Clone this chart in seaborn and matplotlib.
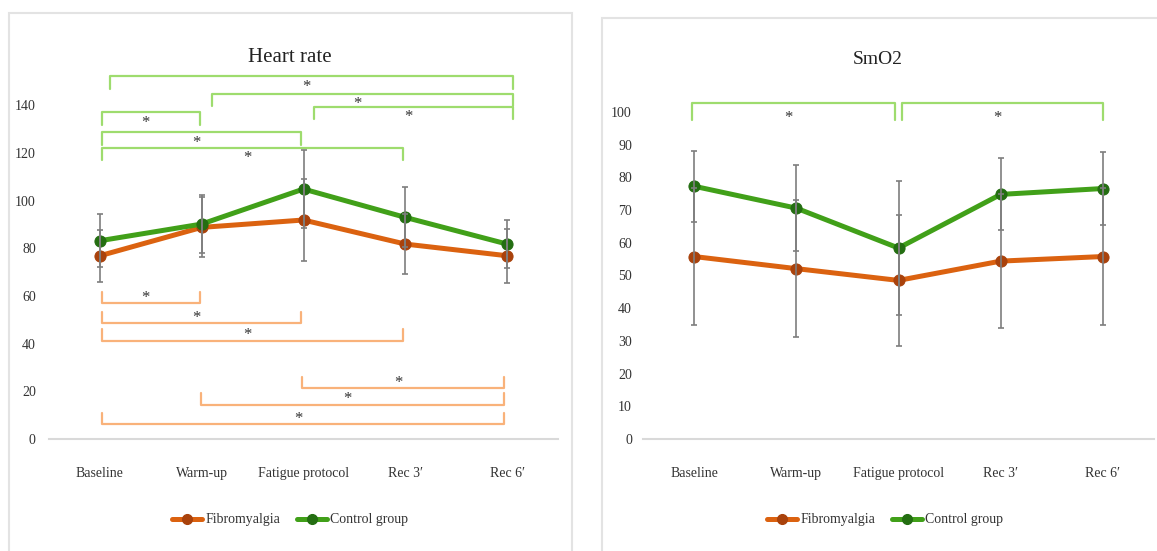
import numpy as np
import pandas as pd
import matplotlib
matplotlib.use("Agg")
import matplotlib.pyplot as plt
import seaborn as sns
from matplotlib.lines import Line2D
from matplotlib.patches import Rectangle

# --- datos ---
phases = ["Baseline", "Warm-up", "Fatigue protocol", "Rec 3\u2032", "Rec 6\u2032"]
groups = ["Fibromyalgia", "Control group"]

hr_fibro = [76.9, 88.8, 91.9, 81.8, 76.9]
hr_fibro_sd = [11.0, 12.6, 17.0, 12.6, 11.4]
hr_control = [83.2, 90.2, 104.9, 93.0, 81.8]
hr_control_sd = [11.2, 12.0, 16.3, 12.6, 10.2]

smo2_fibro = [55.8, 52.1, 48.5, 54.4, 55.8]
smo2_fibro_sd = [21.0, 21.0, 20.0, 20.5, 21.0]
smo2_control = [77.3, 70.6, 58.4, 74.8, 76.6]
smo2_control_sd = [10.8, 13.1, 20.4, 11.0, 11.2]

# significant comparisons: (from phase index, to phase index, bracket height)
hr_control_sig = [(0, 4, 152.2), (1, 4, 144.8), (2, 4, 139.3),
                  (0, 1, 137.1), (0, 2, 128.7), (0, 3, 122.1)]
hr_fibro_sig = [(0, 1, 57.0), (0, 2, 48.6), (0, 3, 41.2),
                (2, 4, 21.3), (1, 4, 14.3), (0, 4, 6.2)]
smo2_control_sig = [(0, 2, 102.7), (2, 4, 102.7)]

yticks_hr = list(range(0, 141, 20))
yticks_smo2 = list(range(0, 101, 10))

# --- estilo ---
sns.set_theme(style="white")
plt.rcParams["font.family"] = ["Liberation Serif", "DejaVu Serif"]

col_fibro = "#DB6210"
mk_fibro = "#A9420C"
col_ctrl = "#41A019"
mk_ctrl = "#246E12"
br_green = "#9EDC6E"
br_orange = "#F9B27A"
gray_err = "#7E7E7E"
txt = "#333333"

fig = plt.figure(figsize=(11.57, 5.51), dpi=100)
W, H = 1157, 551

# panel borders (Excel chart areas)
fig.patches.append(Rectangle((8.5 / W, -0.05), (572 - 8.5) / W, 1.05 - 13 / H,
                             transform=fig.transFigure, fill=False,
                             edgecolor="#E3E3E3", lw=1.5))
fig.patches.append(Rectangle((602 / W, -0.05), 0.5, 1.05 - 18 / H,
                             transform=fig.transFigure, fill=False,
                             edgecolor="#E3E3E3", lw=1.5))

ax1 = fig.add_axes([49 / W, 1 - 439 / H, 509 / W, 160 * 2.383 / H])
ax2 = fig.add_axes([643 / W, 1 - 439 / H, 511 / W, 105 * 3.27 / H])

x = np.arange(len(phases))


def draw_series(ax, fibro, fibro_sd, ctrl, ctrl_sd):
    df = pd.DataFrame({
        "phase": np.concatenate([x, x]),
        "value": fibro + ctrl,
        "group": [groups[0]] * len(x) + [groups[1]] * len(x),
    })
    for g, c, m in [(groups[0], col_fibro, mk_fibro), (groups[1], col_ctrl, mk_ctrl)]:
        sub = df[df["group"] == g]
        sns.lineplot(data=sub, x="phase", y="value", color=c, lw=3.6,
                     marker="o", markersize=8, markerfacecolor=m,
                     markeredgecolor=m, ax=ax, zorder=3)
    for vals, sd in [(fibro, fibro_sd), (ctrl, ctrl_sd)]:
        ax.errorbar(x, vals, yerr=sd, fmt="none", ecolor=gray_err,
                    elinewidth=1.2, capsize=2.5, capthick=1.2, zorder=4)


def bracket(ax, x0, x1, y, leg, color, star_dy):
    ax.plot([x0, x0, x1, x1], [y - leg, y, y, y - leg], color=color,
            lw=1.6, clip_on=False, zorder=2)
    ax.text((x0 + x1) / 2 - 0.05, y + star_dy, "*", ha="center", va="center",
            fontsize=12, color=txt, clip_on=False)


draw_series(ax1, hr_fibro, hr_fibro_sd, hr_control, hr_control_sd)
draw_series(ax2, smo2_fibro, smo2_fibro_sd, smo2_control, smo2_control_sd)

for i, j, y in hr_control_sig:
    if j == 4 and i > 0 or (i, j) == (0, 4):
        x0, x1 = i + 0.10, j + 0.06
    else:
        x0, x1 = i + 0.02, j - 0.02
    bracket(ax1, x0, x1, y, 5.2, br_green, -4.3)

for i, j, y in hr_fibro_sig:
    x0 = i + 0.02 if i == 0 else i - 0.01
    x1 = j - 0.02 if j < 4 else j - 0.03
    bracket(ax1, x0, x1, y, -4.8, br_orange, 2.3)

for k, (i, j, y) in enumerate(smo2_control_sig):
    x0 = i - 0.02 if k == 0 else i + 0.03
    x1 = j - 0.03 if k == 0 else j
    bracket(ax2, x0, x1, y, 5.0, br_green, -4.5)

for ax, yt, ylim, pad in [(ax1, yticks_hr, 160, 9.5), (ax2, yticks_smo2, 105, 8)]:
    ax.set_xlim(-0.5, len(phases) - 0.5)
    ax.set_ylim(0, ylim)
    ax.set_xticks(x)
    ax.set_xticklabels(phases, fontsize=10, color=txt)
    ax.set_yticks(yt)
    ax.set_yticklabels([str(v) for v in yt], fontsize=10, color=txt)
    ax.tick_params(axis="x", length=0, pad=20)
    ax.tick_params(axis="y", length=0, pad=pad)
    ax.set_xlabel("")
    ax.set_ylabel("")
    for s in ["left", "right", "top"]:
        ax.spines[s].set_visible(False)
    ax.spines["bottom"].set_color("#D9D9D9")
    ax.spines["bottom"].set_linewidth(1.5)
    ax.patch.set_alpha(0)

fig.text(290 / W, 1 - 58 / H, "Heart rate", ha="center", va="center",
         fontsize=15, color="#222222")
fig.text(878 / W, 1 - 60 / H, "SmO2", ha="center", va="center",
         fontsize=14, color="#222222")

handles = [
    Line2D([], [], color=col_fibro, lw=3.6, marker="o", markersize=7,
           markerfacecolor=mk_fibro, markeredgecolor=mk_fibro),
    Line2D([], [], color=col_ctrl, lw=3.6, marker="o", markersize=7,
           markerfacecolor=mk_ctrl, markeredgecolor=mk_ctrl),
]
for cx in [290, 885]:
    fig.legend(handles, groups, loc="center", bbox_to_anchor=(cx / W, 1 - 520 / H),
               ncol=2, frameon=False, fontsize=10, handlelength=2.2,
               handletextpad=0.2, columnspacing=1.2, labelcolor=txt)

fig.savefig("out.png", dpi=100)
